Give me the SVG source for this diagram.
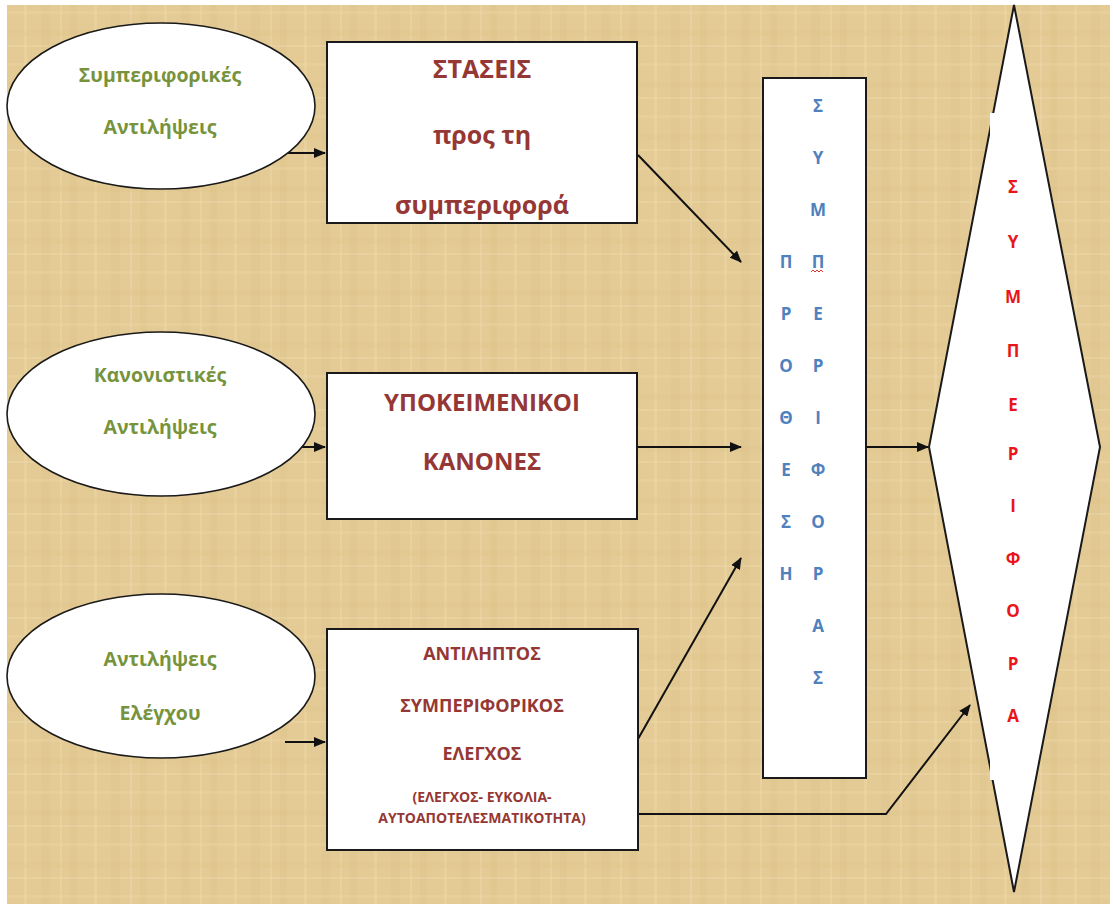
<svg xmlns="http://www.w3.org/2000/svg" width="1113" height="906" viewBox="0 0 1113 906">
<style>
  text { font-family: "Open Sans", "Noto Sans", "Liberation Sans", sans-serif; font-weight: bold; text-anchor: middle; }
  .shape { fill: #ffffff; stroke: #1a1a1a; stroke-width: 2; }
  .ell { fill: #ffffff; stroke: #1a1a1a; stroke-width: 1.6; }
  .green { fill: #77933c; font-size: 19.5px; }
  .dred { fill: #953735; }
  .blue { fill: #4f81bd; font-size: 17px; }
  .red { fill: #e8161b; font-size: 17px; }
  .conn { fill: none; stroke: #111111; stroke-width: 2; marker-end: url(#arrow); }
</style>
<defs>
  <marker id="arrow" viewBox="0 0 12 10" refX="11" refY="5" markerWidth="12" markerHeight="10" markerUnits="userSpaceOnUse" orient="auto">
    <path d="M0,0 L12,5 L0,10 z" fill="#111111"/>
  </marker>
  <pattern id="papyrus" width="70" height="52" patternUnits="userSpaceOnUse">
    <rect width="70" height="52" fill="#e4cb95"/>
    <rect x="0" y="0" width="7" height="52" fill="#dcc087" opacity="0.35"/>
    <rect x="24" y="0" width="3" height="52" fill="#eed9ab" opacity="0.4"/>
    <rect x="41" y="0" width="9" height="52" fill="#d9bd82" opacity="0.25"/>
    <rect x="60" y="0" width="2" height="52" fill="#f0dcae" opacity="0.35"/>
    <rect x="0" y="11" width="70" height="3" fill="#efdaac" opacity="0.3"/>
    <rect x="0" y="30" width="70" height="6" fill="#dabe83" opacity="0.25"/>
    <rect x="0" y="45" width="70" height="2" fill="#f1dfb4" opacity="0.3"/>
  </pattern>
</defs>
<rect x="0" y="0" width="1113" height="906" fill="#ffffff"/>
<rect x="7" y="5" width="1103" height="899" fill="url(#papyrus)"/>

<g id="connectors">
  <line class="conn" x1="285" y1="153" x2="325" y2="153"/>
  <line class="conn" x1="285" y1="447" x2="325" y2="447"/>
  <line class="conn" x1="285" y1="742" x2="325" y2="742"/>
  <line class="conn" x1="638" y1="155" x2="741" y2="262"/>
  <line class="conn" x1="638" y1="447" x2="741" y2="447"/>
  <line class="conn" x1="638" y1="739" x2="741" y2="558"/>
  <line class="conn" x1="866" y1="447" x2="928" y2="447"/>
  <polyline class="conn" points="638,814 886,814 970,705"/>
</g>

<g id="ellipse1">
  <ellipse class="ell" cx="161" cy="106" rx="154" ry="83"/>
  <text class="green" x="160" y="82">Συμπεριφορικές</text>
  <text class="green" x="160" y="134">Αντιλήψεις</text>
</g>
<g id="ellipse2">
  <ellipse class="ell" cx="161" cy="414" rx="154" ry="82"/>
  <text class="green" x="160" y="382">Κανονιστικές</text>
  <text class="green" x="160" y="434">Αντιλήψεις</text>
</g>
<g id="ellipse3">
  <ellipse class="ell" cx="161" cy="676" rx="154" ry="82"/>
  <text class="green" x="160" y="666">Αντιλήψεις</text>
  <text class="green" x="160" y="720">Ελέγχου</text>
</g>

<g id="box1">
  <rect class="shape" x="327" y="42" width="310" height="181"/>
  <text class="dred" x="482" y="78" font-size="25">ΣΤΑΣΕΙΣ</text>
  <text class="dred" x="482" y="144" font-size="25">προς τη</text>
  <text class="dred" x="482" y="214" font-size="25">συμπεριφορά</text>
</g>
<g id="box2">
  <rect class="shape" x="327" y="373" width="310" height="146"/>
  <text class="dred" x="482" y="411" font-size="24">ΥΠΟΚΕΙΜΕΝΙΚΟΙ</text>
  <text class="dred" x="482" y="470" font-size="24">ΚΑΝΟΝΕΣ</text>
</g>
<g id="box3">
  <rect class="shape" x="327" y="629" width="311" height="221"/>
  <text class="dred" x="482" y="660" font-size="18">ΑΝΤΙΛΗΠΤΟΣ</text>
  <text class="dred" x="482" y="712" font-size="18">ΣΥΜΠΕΡΙΦΟΡΙΚΟΣ</text>
  <text class="dred" x="482" y="760" font-size="18">ΕΛΕΓΧΟΣ</text>
  <text class="dred" x="482" y="802" font-size="14">(ΕΛΕΓΧΟΣ- ΕΥΚΟΛΙΑ-</text>
  <text class="dred" x="482" y="823" font-size="14">ΑΥΤΟΑΠΟΤΕΛΕΣΜΑΤΙΚΟΤΗΤΑ)</text>
</g>

<g id="intention">
  <rect class="shape" x="763" y="78" width="103" height="700"/>
  <text class="blue" x="818" y="112">Σ</text>
  <text class="blue" x="818" y="164">Υ</text>
  <text class="blue" x="818" y="216">Μ</text>
  <text class="blue" x="818" y="268">Π</text>
  <text class="blue" x="818" y="320">Ε</text>
  <text class="blue" x="818" y="372">Ρ</text>
  <text class="blue" x="818" y="424">Ι</text>
  <text class="blue" x="818" y="476">Φ</text>
  <text class="blue" x="818" y="528">Ο</text>
  <text class="blue" x="818" y="580">Ρ</text>
  <text class="blue" x="818" y="632">Α</text>
  <text class="blue" x="818" y="684">Σ</text>
  <text class="blue" x="786" y="268">Π</text>
  <text class="blue" x="786" y="320">Ρ</text>
  <text class="blue" x="786" y="372">Ο</text>
  <text class="blue" x="786" y="424">Θ</text>
  <text class="blue" x="786" y="476">Ε</text>
  <text class="blue" x="786" y="528">Σ</text>
  <text class="blue" x="786" y="580">Η</text>
  <path d="M811,272 l2,-2 l2,2 l2,-2 l2,2 l2,-2 l2,2" fill="none" stroke="#e03030" stroke-width="1"/>
</g>

<g id="behaviour">
  <polygon class="shape" points="1014,5 1100,447 1014,892 929,447"/>
  <rect x="990" y="113" width="42" height="667" fill="#ffffff"/>
  <text class="red" x="1013" y="193">Σ</text>
  <text class="red" x="1013" y="248">Υ</text>
  <text class="red" x="1013" y="303">Μ</text>
  <text class="red" x="1013" y="357">Π</text>
  <text class="red" x="1013" y="411">Ε</text>
  <text class="red" x="1013" y="460">Ρ</text>
  <text class="red" x="1013" y="512">Ι</text>
  <text class="red" x="1013" y="565">Φ</text>
  <text class="red" x="1013" y="617">Ο</text>
  <text class="red" x="1013" y="670">Ρ</text>
  <text class="red" x="1013" y="722">Α</text>
</g>
</svg>
